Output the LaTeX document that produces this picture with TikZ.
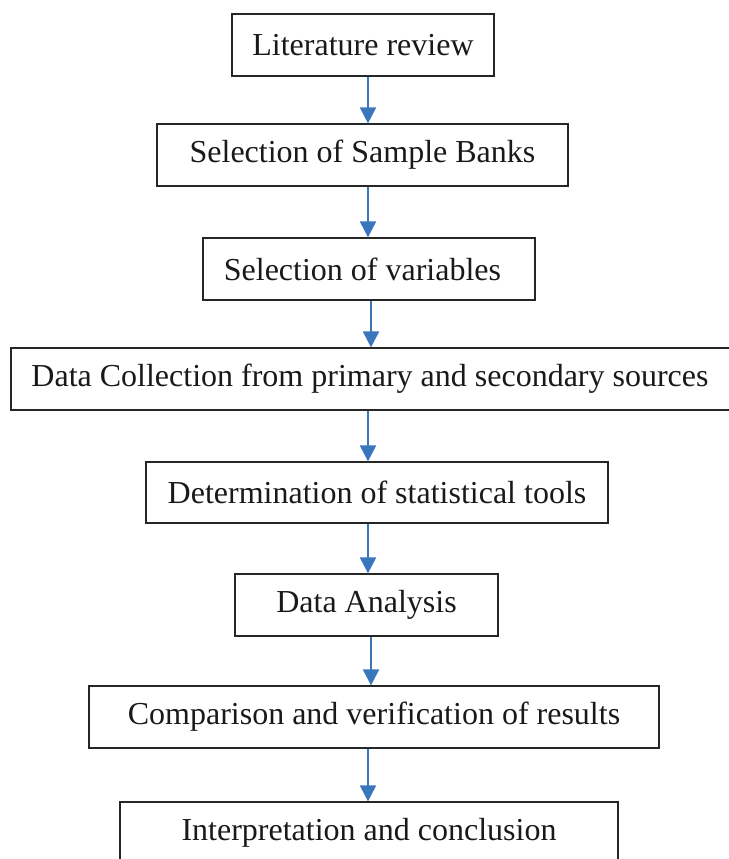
\documentclass[tikz,border=0pt]{standalone}
\usepackage{fontspec}
\setmainfont{Liberation Serif}
\usepackage{tikz}
\usetikzlibrary{arrows.meta}
\definecolor{flowblue}{RGB}{58,118,188}

\begin{document}
\begin{tikzpicture}[x=1pt,y=-1pt,
  box/.style={draw=black!85, line width=1.2pt, rectangle, inner sep=0pt,
    font=\fontsize{32}{36}\selectfont, text=black!90},
  flow/.style={flowblue, line width=2pt, -{Triangle[width=16pt,length=16pt]}}]

\useasboundingbox (0,0) rectangle (728,859);

\node[box, minimum width=262, minimum height=62] (lit) at (363,45) {Literature review};
\node[box, minimum width=411, minimum height=62] (banks) at (362.5,155) {Selection of Sample Banks};
\node[box, minimum width=332, minimum height=62] (vars) at (369,269) {\hspace{-13pt}Selection of variables};
\node[box, minimum width=730, minimum height=62] (data) at (376,379) {\hspace{-12pt}Data Collection from primary and secondary sources};
\node[box, minimum width=462, minimum height=61] (tools) at (377,492.5) {Determination of statistical tools};
\node[box, minimum width=263, minimum height=62] (anal) at (366.5,605) {Data Analysis};
\node[box, minimum width=570, minimum height=62] (comp) at (374,717) {Comparison and verification of results};
\node[box, minimum width=498, minimum height=62] (interp) at (369,833) {Interpretation and conclusion};

% arrows run down a common column
\coordinate (a1) at (368,0);
\coordinate (a2) at (371,0);
\draw[flow] (lit.south -| a1) -- (banks.north -| a1);
\draw[flow] (banks.south -| a1) -- (vars.north -| a1);
\draw[flow] (vars.south -| a2) -- (data.north -| a2);
\draw[flow] (data.south -| a1) -- (tools.north -| a1);
\draw[flow] (tools.south -| a1) -- (anal.north -| a1);
\draw[flow] (anal.south -| a2) -- (comp.north -| a2);
\draw[flow] (comp.south -| a1) -- (interp.north -| a1);
\end{tikzpicture}
\end{document}
